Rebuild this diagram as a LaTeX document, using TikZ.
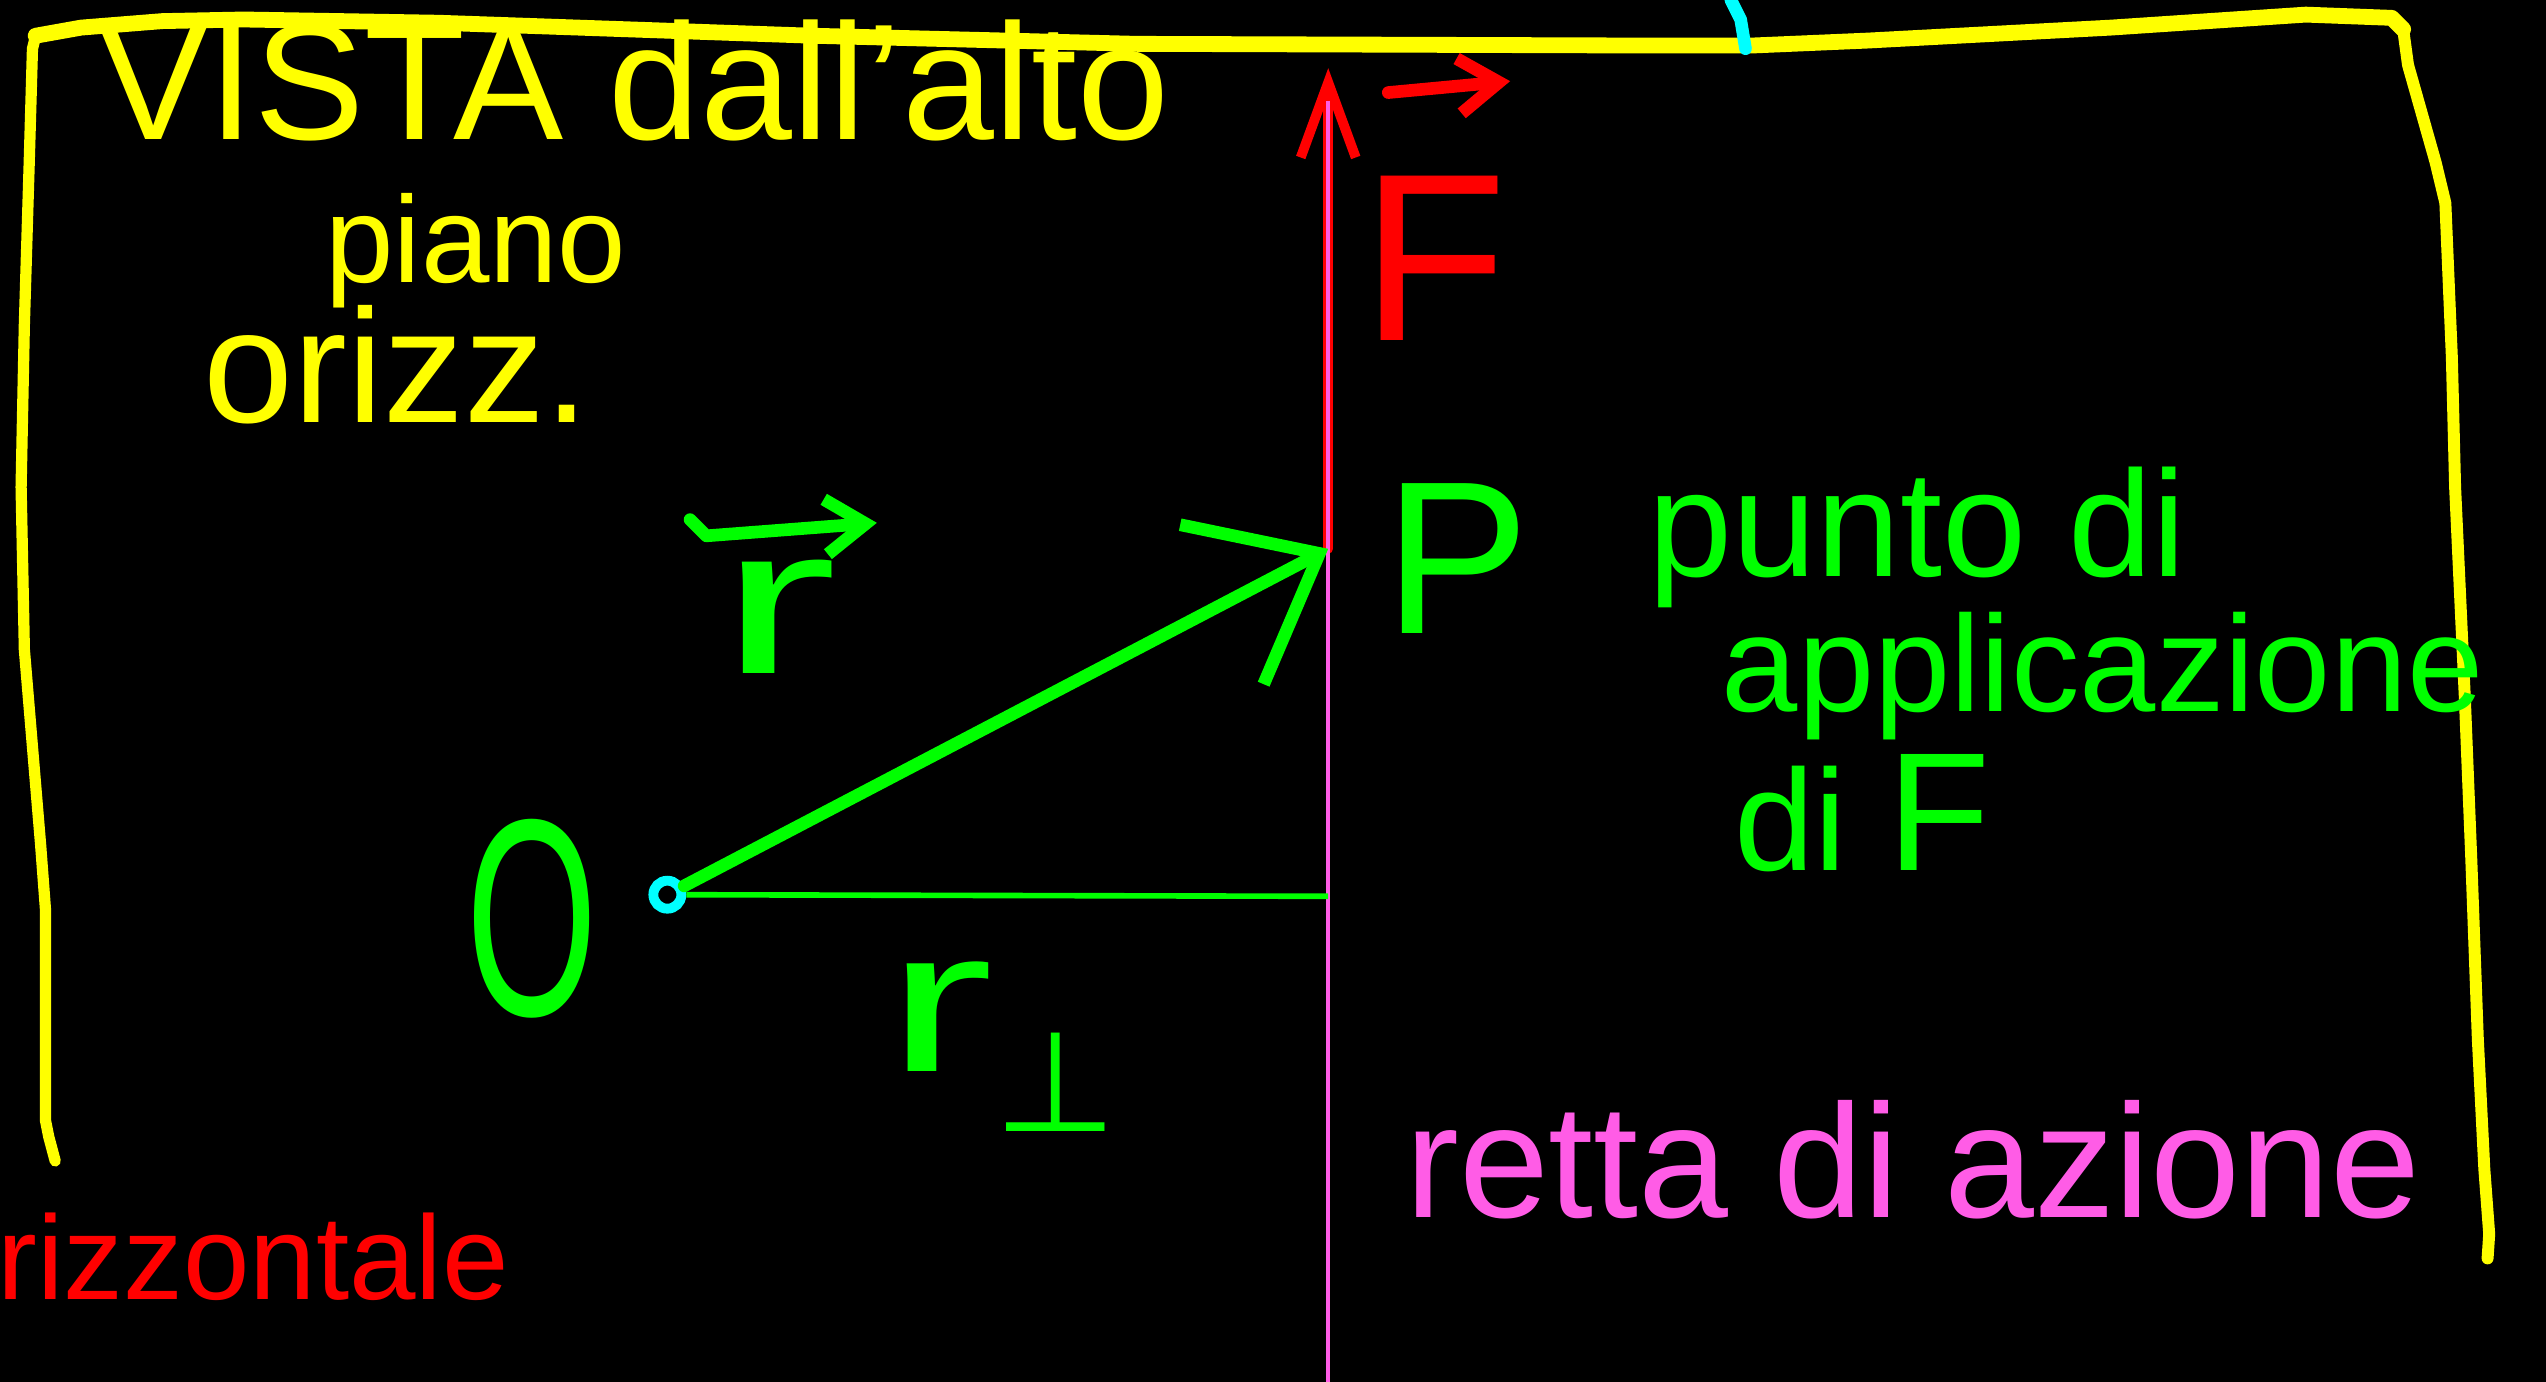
\documentclass[tikz,border=0pt]{standalone}
\usepackage{fontspec}
\setmainfont{Liberation Sans}
\newfontfamily\dejavu{DejaVu Sans}
\usetikzlibrary{arrows.meta}
\definecolor{ChalkYellow}{HTML}{FFFF00}
\definecolor{ChalkGreen}{HTML}{00FF00}
\definecolor{ChalkRed}{HTML}{FF0000}
\definecolor{ChalkPink}{HTML}{FF5CE6}
\definecolor{ChalkCyan}{HTML}{00FFFF}

\begin{document}
\begin{tikzpicture}[x=0.1624mm,y=-0.1624mm,
    pen/.style={line cap=round,line join=round,line width=3.6pt},
    txt/.style={inner sep=0pt,anchor=base west},
    frame/.style={pen,ChalkYellow},
    dot/.style={circle,draw=ChalkCyan,line width=2.8pt,minimum size=2.8mm,inner sep=0pt},
    garr/.style={pen,ChalkGreen,-{Straight Barb[length=11mm,width=18mm]}},
    farr/.style={pen,ChalkRed,line width=2.8pt,-{Straight Barb[length=7.5mm,width=5.5mm]}},
    hat/.style={pen,-{Straight Barb[length=4mm,width=5.5mm]}}]
    \path[use as bounding box,fill=black] (0,0) rectangle (1568,851);
    \draw[frame,line width=3.2pt] (34,715) -- (30,700) -- (28,690) -- (28,560) -- (25,520) -- (20,460)
        -- (15,400) -- (13,300) -- (15,200) -- (18,100) -- (20,30) -- (22,22);
    \draw[frame,line width=4.5pt] (22,22) -- (50,17) -- (100,13) -- (150,12) -- (270,14) -- (500,22)
        -- (700,27) -- (1000,28) -- (1080,28) -- (1150,25) -- (1300,17) -- (1420,9) -- (1473,11) -- (1480,18);
    \draw[frame,line width=3.4pt] (1480,18) -- (1483,40) -- (1500,100) -- (1506,125) -- (1510,220) -- (1512,300)
        -- (1518,430) -- (1522,530) -- (1526,640) -- (1530,720) -- (1533,760) -- (1532,775);
    \draw[pen,ChalkCyan,line width=3.6pt] (1066,0) -- (1072,12) -- (1075,30);
    \node[txt,ChalkYellow,font=\fontsize{47}{49}\selectfont] (vista) at (60,86) {VISTA dall'alto};
    \node[txt,ChalkYellow,font=\fontsize{35}{37}\selectfont] (piano) at (200,174) {piano};
    \node[txt,ChalkYellow,font=\fontsize{46}{48}\selectfont] (orizz) at (125,260) {orizz.};
    \node[txt,ChalkRed,font=\fontsize{34}{36}\selectfont] (rizz) at (-2,800) {rizzontale};
    \node[txt,ChalkGreen,font=\fontsize{43}{45}\selectfont] (punto) at (1015,355) {punto di};
    \node[txt,ChalkGreen,font=\fontsize{39}{41}\selectfont] (applic) at (1060,438) {applicazione};
    \node[txt,ChalkGreen,font=\fontsize{41}{43}\selectfont] (diF) at (1068,536) {di \fontsize{48}{50}\selectfont F};
    \node[txt,ChalkPink,font=\fontsize{46}{48}\selectfont] (retta) at (865,750) {retta di azione};
    \coordinate (P) at (818,338);
    \coordinate (Ftip) at (818,42);
    \coordinate (H) at (818,552);
    \coordinate (Ltop) at (818,62);
    \coordinate (Lbot) at (818,851);
    \node[dot] (O) at (411,551) {};
    \node[ChalkGreen,font=\fontsize{80}{80}\selectfont] (Olbl) at (328,566) {\scalebox{0.6}[1]{O}};
    \node[txt,ChalkGreen,font=\fontsize{62}{64}\selectfont] (Plbl) at (852,390) {P};
    \node[txt,ChalkRed,font=\fontsize{68}{70}\selectfont] (Flbl) at (838,210) {F};
    \node[txt,ChalkGreen,font=\fontsize{60}{60}\selectfont] (rlbl) at (442,415) {\scalebox{1.7}[1]{r}};
    \node[txt,ChalkGreen,font=\fontsize{58}{58}\selectfont] (rperp) at (545,660)
        {\scalebox{1.6}[1]{r}\raisebox{-17pt}{\dejavu\fontsize{40}{40}\selectfont ⊥}};
    \coordinate (rA) at (425,320);
    \coordinate (rB) at (540,322);
    \coordinate (fA) at (855,57);
    \coordinate (fB) at (930,50);
    \draw[hat,ChalkGreen] (rA) -- (435,330) -- (rB);
    \draw[hat,ChalkRed] (fA) -- (fB);
    \draw[farr] (P) -- (Ftip);
    \draw[ChalkPink,line width=1pt] (Ltop) -- (Lbot);
    \draw[ChalkGreen,line width=1.6pt] (O) -- (H);
    \draw[garr] (O) -- (P);
\end{tikzpicture}
\end{document}
